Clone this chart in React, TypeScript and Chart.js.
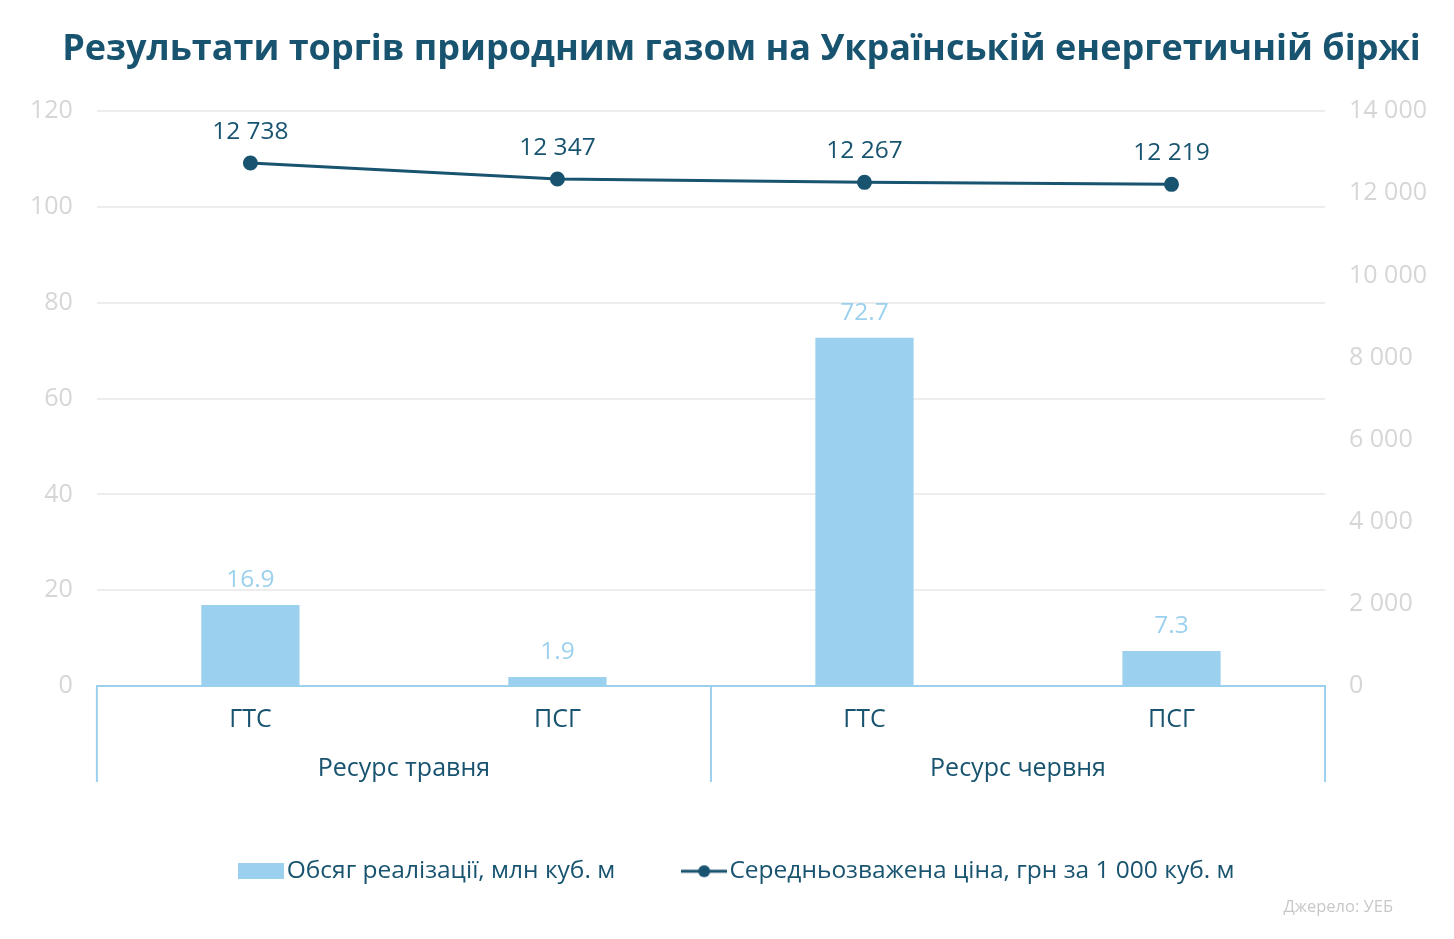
import Chart from "chart.js/auto";
import { useEffect, useRef } from "react";

const categories = ["ГТС", "ПСГ", "ГТС", "ПСГ"];
const groups = ["Ресурс травня", "Ресурс червня"];
const volumes = [16.9, 1.9, 72.7, 7.3];
const prices = [12738, 12347, 12267, 12219];

const DARK = "#18536f";
const LIGHT = "#9bd1ee";
const TICK = "#d6d6d6";
const FONT = "'Open Sans', 'Noto Sans', sans-serif";

const spaced = (v: number) => String(v).replace(/\B(?=(\d{3})+(?!\d))/g, " ");

function legendIcon(kind: "bar" | "line") {
  const c = document.createElement("canvas");
  c.width = 46;
  c.height = 16;
  const g = c.getContext("2d")!;
  if (kind === "bar") {
    g.fillStyle = LIGHT;
    g.fillRect(0, 0, 46, 16);
  } else {
    g.strokeStyle = DARK;
    g.lineWidth = 3;
    g.beginPath();
    g.moveTo(0, 8);
    g.lineTo(46, 8);
    g.stroke();
    g.fillStyle = DARK;
    g.beginPath();
    g.arc(23, 8, 6, 0, Math.PI * 2);
    g.fill();
  }
  return c;
}

const valueLabels = {
  id: "valueLabels",
  afterDatasetsDraw(chart: any) {
    const ctx = chart.ctx;
    ctx.save();
    ctx.textAlign = "center";
    ctx.textBaseline = "middle";
    chart.data.datasets.forEach((ds: any, i: number) => {
      const meta = chart.getDatasetMeta(i);
      meta.data.forEach((el: any, j: number) => {
        const v = ds.data[j];
        if (ds.type === "line") {
          ctx.fillStyle = DARK;
          ctx.font = `24.5px ${FONT}`;
          ctx.fillText(spaced(v), el.x, el.y - 31);
        } else {
          ctx.fillStyle = LIGHT;
          ctx.font = `24.5px ${FONT}`;
          ctx.fillText(v.toFixed(1), el.x, el.y - 25);
        }
      });
    });
    ctx.restore();
  },
};

// second level of the category axis: group names and separators
const groupAxis = {
  id: "groupAxis",
  afterDraw(chart: any) {
    const { ctx, chartArea } = chart;
    const x = chart.scales.x;
    const per = categories.length / groups.length;
    const bottom = chartArea.bottom + 96;
    ctx.save();
    ctx.strokeStyle = LIGHT;
    ctx.lineWidth = 2;
    const edges = [chartArea.left];
    for (let g = 1; g < groups.length; g++) {
      edges.push((x.getPixelForTick(g * per - 1) + x.getPixelForTick(g * per)) / 2);
    }
    edges.push(chartArea.right);
    edges.forEach((px) => {
      ctx.beginPath();
      ctx.moveTo(px, chartArea.bottom);
      ctx.lineTo(px, bottom);
      ctx.stroke();
    });
    ctx.fillStyle = DARK;
    ctx.font = `25px ${FONT}`;
    ctx.textAlign = "center";
    ctx.textBaseline = "middle";
    groups.forEach((name, g) => {
      const cx = (x.getPixelForTick(g * per) + x.getPixelForTick(g * per + per - 1)) / 2;
      ctx.fillText(name, cx, chartArea.bottom + 83);
    });
    ctx.restore();
  },
};

export default function App() {
  const ref = useRef<HTMLCanvasElement>(null);

  useEffect(() => {
    if (!ref.current) return;
    const chart = new Chart(ref.current, {
      type: "bar",
      plugins: [valueLabels, groupAxis],
      data: {
        labels: categories,
        datasets: [
          {
            type: "line",
            label: "Середньозважена ціна, грн за 1 000 куб. м",
            data: prices,
            yAxisID: "y1",
            borderColor: DARK,
            backgroundColor: DARK,
            borderWidth: 3,
            pointRadius: 6,
            pointBackgroundColor: DARK,
            order: 0,
          },
          {
            type: "bar",
            label: "Обсяг реалізації, млн куб. м",
            data: volumes,
            yAxisID: "y",
            backgroundColor: LIGHT,
            categoryPercentage: 0.8,
            barPercentage: 0.4,
            order: 1,
          },
        ] as any,
      },
      options: {
        animation: false,
        responsive: true,
        maintainAspectRatio: false,
        layout: { padding: { left: 32, right: 3, top: 0, bottom: 46 } },
        scales: {
          x: {
            offset: true,
            grid: { display: false, drawTicks: false },
            border: { color: LIGHT, width: 2 },
            ticks: { color: DARK, font: { family: FONT, size: 25 }, padding: 19 },
            afterFit(scale: any) {
              scale.height = 97;
            },
          },
          y: {
            min: 0,
            max: 120,
            ticks: { stepSize: 20, color: TICK, font: { family: FONT, size: 25 }, padding: 24 },
            grid: { color: "#ededed", lineWidth: 2, drawTicks: false },
            border: { display: false },
            afterFit(scale: any) {
              scale.width -= 26;
            },
          },
          y1: {
            position: "right",
            min: 0,
            max: 14000,
            ticks: {
              stepSize: 2000,
              color: TICK,
              font: { family: FONT, size: 25 },
              padding: 24,
              callback: (v: any) => spaced(Number(v)),
            },
            grid: { display: false, drawTicks: false },
            border: { display: false },
          },
        },
        plugins: {
          title: {
            display: true,
            text: "Результати торгів природним газом на Українській енергетичній біржі",
            color: DARK,
            font: { family: FONT, size: 36, weight: "bold" },
            padding: { top: 28, bottom: 40 },
          },
          legend: {
            position: "bottom",
            maxHeight: 110,
            labels: {
              color: DARK,
              font: { family: FONT, size: 24.5 },
              usePointStyle: true,
              pointStyleWidth: 26,
              boxHeight: 16,
              padding: 76,
              generateLabels: (ch: any) =>
                [1, 0].map((i) => ({
                  text: ch.data.datasets[i].label,
                  fontColor: DARK,
                  pointStyle: legendIcon(i === 1 ? "bar" : "line"),
                  datasetIndex: i,
                  hidden: false,
                  lineWidth: 0,
                  strokeStyle: "transparent",
                  fillStyle: "transparent",
                })),
            },
          },
          tooltip: { enabled: false },
        },
      },
    });

    return () => {
      chart.destroy();
    };
  }, []);

  return (
    <div style={{ position: "absolute", left: 0, top: 0, width: 1454, height: 939, background: "#fff" }}>
      <canvas ref={ref}></canvas>
      <div
        style={{
          position: "absolute",
          right: 61,
          top: 894,
          fontFamily: FONT,
          fontSize: 16.5,
          color: "#c8c8c8",
        }}
      >
        Джерело: УЕБ
      </div>
    </div>
  );
}
